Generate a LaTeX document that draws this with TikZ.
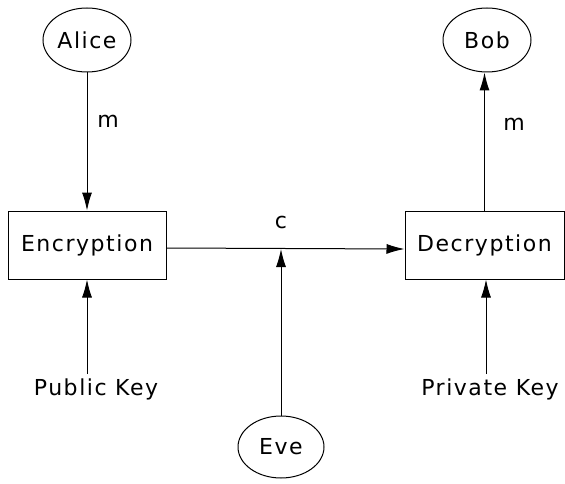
\documentclass[tikz,border=0pt]{standalone}
\usepackage{fontspec}
\setmainfont{DejaVu Sans}[LetterSpace=7]
\usetikzlibrary{positioning,arrows.meta,shapes.geometric}

\tikzset{
  party/.style={ellipse,draw,line width=1pt,minimum width=88pt,minimum height=64pt,inner sep=0pt},
  stage/.style={rectangle,draw,line width=1pt,minimum width=158pt,minimum height=68pt,inner sep=0pt},
  flow/.style={-{Latex[length=18pt,width=10pt]},line width=1pt},
}

\begin{document}
\begin{tikzpicture}[x=1pt,y=-1pt,font=\fontsize{22}{26}\selectfont]
\useasboundingbox (0,0) rectangle (565,484);

\node[party] (alice) at (87,40) {Alice};
\node[party] (bob) at (487,40) {Bob};
\node[party,minimum width=86pt,minimum height=62pt] (eve) at (281,447) {Eve};

\node[stage] (enc) at (87,245) {Encryption};
\node[stage,minimum width=159pt] (dec) at (484.5,245) {Decryption};

\node (pubkey) at (96,389) {Public Key};
\node (privkey) at (490,389) {Private Key};

\coordinate (tap) at (281,249);

\draw[flow] (alice) -- (enc);
\draw[flow] (dec.north) -- (dec.north |- bob.south);
\draw[flow] ([yshift=-3pt]enc.east) -- ([yshift=-4pt]dec.west);
\draw[flow] (eve) -- (tap);
\draw[flow] (87,374) -- (enc.south);
\draw[flow] (486,374) -- ([xshift=1.5pt]dec.south);

\node at (108,121) {m};
\node at (514,124) {m};
\node at (281,222) {c};

\end{tikzpicture}
\end{document}
